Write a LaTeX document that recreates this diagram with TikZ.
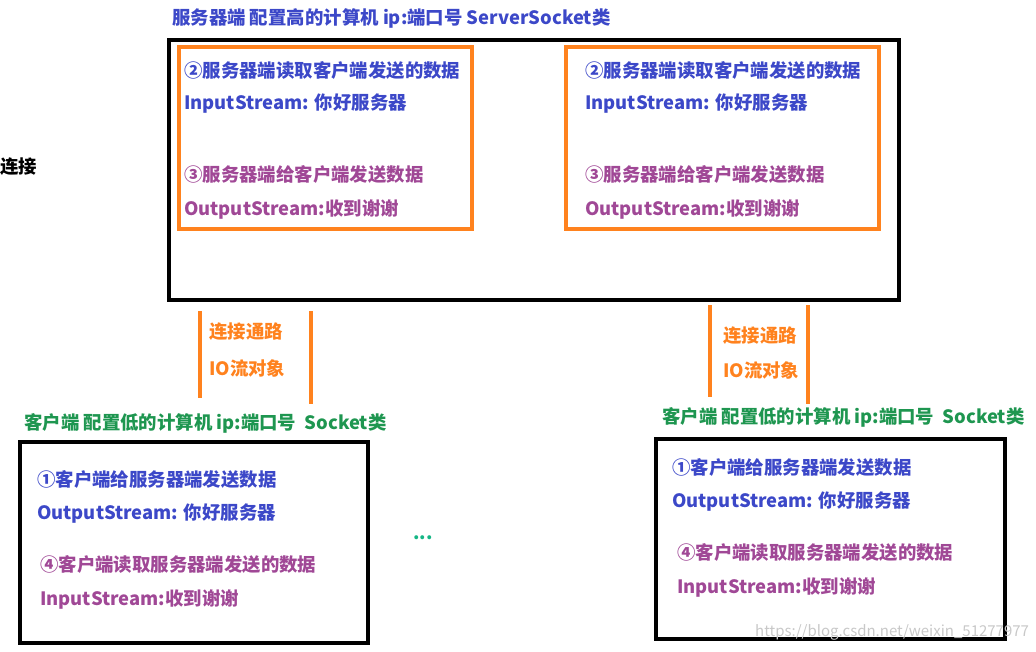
\documentclass[tikz,border=0pt]{standalone}
\usepackage{fontspec}
\setmainfont{Noto Sans CJK SC}
\definecolor{tblue}{RGB}{60,72,200}
\definecolor{tpurple}{RGB}{160,72,150}
\definecolor{tgreen}{RGB}{30,150,80}
\definecolor{torange}{RGB}{255,130,30}
\definecolor{wm}{RGB}{200,200,200}
\begin{document}
\begin{tikzpicture}[x=1pt,y=-1pt,
  txt/.style={anchor=west,inner sep=0pt,font=\fontsize{18.4}{20}\selectfont\bfseries},
  blk/.style={draw=black,line width=3.8pt,anchor=north west,inner sep=0pt},
  obox/.style={draw=torange,line width=3.5pt,anchor=north west,inner sep=0pt},
  oline/.style={draw=torange,line width=3.2pt}]
\useasboundingbox (0,0) rectangle (1036,651);
% server
\node[txt,text=tblue] (stitle) at (172,18) {服务器端 配置高的计算机 ip:端口号 ServerSocket类};
\node[blk,minimum width=730pt,minimum height=260pt] (server) at (167,38) {};
\node[obox,minimum width=293pt,minimum height=182pt] (sl) at (177,45) {};
\node[obox,minimum width=313pt,minimum height=182pt] (sr) at (564,45) {};
\node[txt,text=tblue] (sl1) at (184,70) {②服务器端读取客户端发送的数据};
\node[txt,text=tblue] (sl2) at (184,104) {InputStream: 你好服务器};
\node[txt,text=tpurple] (sl3) at (184,174) {③服务器端给客户端发送数据};
\node[txt,text=tpurple] (sl4) at (184,210) {OutputStream:收到谢谢};
\node[txt,text=tblue] (sr1) at (585,70) {②服务器端读取客户端发送的数据};
\node[txt,text=tblue] (sr2) at (585,104) {InputStream: 你好服务器};
\node[txt,text=tpurple] (sr3) at (585,174) {③服务器端给客户端发送数据};
\node[txt,text=tpurple] (sr4) at (585,210) {OutputStream:收到谢谢};
\node[txt,text=black] (lj) at (0,167) {连接};
% channels
\coordinate (a1) at (200,311); \coordinate (a2) at (200,398);
\coordinate (b1) at (311,311); \coordinate (b2) at (311,404);
\draw[oline] (a1) -- (a2);
\draw[oline] (b1) -- (b2);
\node[txt,text=torange] (c1) at (209,332) {连接通路};
\node[txt,text=torange] (c2) at (209,368) {IO流对象};
\coordinate (d1) at (710,305); \coordinate (d2) at (710,397);
\coordinate (e1) at (808,305); \coordinate (e2) at (808,404);
\draw[oline] (d1) -- (d2);
\draw[oline] (e1) -- (e2);
\node[txt,text=torange] (c3) at (723,336) {连接通路};
\node[txt,text=torange] (c4) at (723,370) {IO流对象};
% left client
\node[txt,text=tgreen] (lt) at (24,423) {客户端 配置低的计算机 ip:端口号\ \ Socket类};
\node[blk,minimum width=348pt,minimum height=201pt] (lc) at (18,440) {};
\node[txt,text=tblue] (lc1) at (37,479) {①客户端给服务器端发送数据};
\node[txt,text=tblue] (lc2) at (37,514) {OutputStream: 你好服务器};
\node[txt,text=tpurple] (lc3) at (40,564) {④客户端读取服务器端发送的数据};
\node[txt,text=tpurple] (lc4) at (40,600) {InputStream:收到谢谢};
\node[txt,text=tgreen!70!cyan] (dots) at (413,538) {...};
% right client
\node[txt,text=tgreen] (rt) at (662,417) {客户端 配置低的计算机 ip:端口号\ \ Socket类};
\node[blk,minimum width=349pt,minimum height=200pt] (rc) at (654,437) {};
\node[txt,text=tblue] (rc1) at (672,467) {①客户端给服务器端发送数据};
\node[txt,text=tblue] (rc2) at (672,502) {OutputStream: 你好服务器};
\node[txt,text=tpurple] (rc3) at (677,552) {④客户端读取服务器端发送的数据};
\node[txt,text=tpurple] (rc4) at (677,588) {InputStream:收到谢谢};
\node[anchor=west,inner sep=0pt,text=wm,font=\fontsize{15}{17}\selectfont] (wmk) at (755,632) {https://blog.csdn.net/weixin\_51277977};
\end{tikzpicture}
\end{document}
